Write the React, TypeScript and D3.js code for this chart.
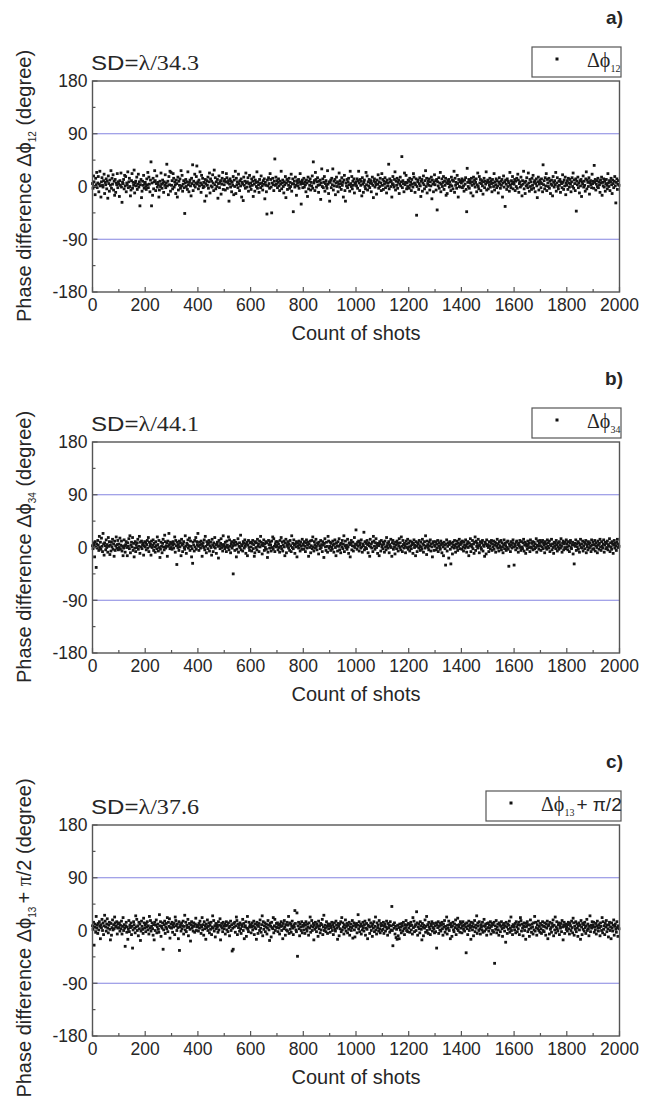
import * as d3 from 'd3';
import React from 'react';

// shots are sampled every other shot, index i -> shot i * shotStep
const shotStep = 2;
const xMajorTicks = [0, 200, 400, 600, 800, 1000, 1200, 1400, 1600, 1800, 2000];
const xMinorTicks = [100, 300, 500, 700, 900, 1100, 1300, 1500, 1700, 1900];
const yMajorTicks = [-180, -90, 0, 90, 180];
const yMinorTicks = [-135, -45, 45, 135];
const guideLevels = [-90, 90];

const panelTags = ['a)', 'b)', 'c)'];
const sdValues = ['34.3', '44.1', '37.6'];
const phaseSubs = ['12', '34', '13'];
const phaseSuffix = ['', '', '+ π/2'];

// Δϕ12 (degree)
const phi12 = [
  5,-3,18,8,0,-14,14,3,24,-2,6,17,-9,4,26,1,-18,8,15,2,-1,10,21,-12,7,3,13,-4,9,-20,18,5,-8,11,2,27,-3,14,4,20,-6,9,-15,12,-10,6,3,22,-2,8,
  4,-17,10,2,23,-1,-27,7,5,12,-4,19,1,17,-9,6,3,25,-2,8,14,0,-16,-6,10,22,-3,7,2,28,-11,6,9,1,16,-5,4,21,-1,8,-33,3,12,-19,-8,9,2,19,-3,5,
  7,0,-5,13,3,24,-2,16,4,-9,11,42,-33,6,-15,14,-4,8,27,10,-7,5,18,-1,7,3,-18,-6,9,0,23,4,-3,11,6,-10,8,2,20,-2,6,38,1,9,-14,17,3,26,-8,24,
  2,10,-4,22,14,-1,8,3,-12,11,5,-18,16,-6,9,2,13,-3,27,1,19,-8,4,10,-2,-46,6,12,0,8,-5,25,3,-9,7,11,1,-16,14,5,37,-7,9,2,21,-1,6,17,35,4,
  8,-4,11,1,25,6,-10,19,3,14,-2,7,0,-25,12,5,-16,10,2,16,-3,8,23,-11,13,1,9,-1,20,6,-7,28,3,15,-4,8,0,12,-20,5,18,-2,7,10,-13,4,14,24,-5,9,
  3,12,-6,8,22,15,-3,6,10,-25,4,13,-1,9,-9,7,2,17,-14,11,0,26,-12,14,3,8,-2,21,5,-7,10,1,13,-18,7,4,-24,16,2,9,-3,23,6,-1,8,15,-8,5,19,0,
  6,-5,13,2,9,-17,16,4,-8,11,7,0,25,-3,8,3,-10,12,5,-2,18,6,1,-6,10,4,13,-21,7,2,-9,-47,11,1,15,5,-3,22,12,-1,-45,6,14,3,-7,9,47,2,16,4,
  10,-2,7,13,1,-7,9,4,26,-4,6,11,0,-11,8,3,17,-19,6,12,-5,9,2,14,-3,7,0,21,-8,5,13,-43,4,9,-1,16,2,-15,10,6,1,12,-3,8,22,4,-30,7,11,-2,
  5,14,-1,8,3,-9,11,6,-17,16,-4,9,2,13,-6,7,1,18,-3,42,6,10,-7,24,12,-1,8,15,2,-10,9,3,11,-22,6,30,0,13,-2,7,17,-8,5,10,1,-3,27,4,-12,8,
  -25,7,11,-2,14,3,30,-6,9,1,12,-14,6,16,0,8,-9,4,23,-1,10,5,-5,15,2,7,-18,11,19,-7,-25,6,1,12,-2,8,14,3,-8,26,5,0,17,-4,9,2,13,-11,6,4,
  8,1,13,-3,10,26,6,-7,12,2,9,-16,15,4,-10,7,11,0,-4,24,3,18,-6,8,1,12,-2,6,10,-9,5,16,2,-19,9,13,-1,7,3,-13,11,4,20,-3,8,0,14,6,-7,22,
  2,12,-5,9,4,15,-2,7,-11,11,1,6,38,-4,13,8,0,10,-18,5,17,3,-1,12,25,-6,9,2,14,-3,7,11,-12,4,16,1,8,51,-2,10,5,-9,23,3,7,19,-4,6,0,11,
  9,-3,14,2,7,-7,12,4,-1,22,16,6,-10,3,13,-49,0,8,11,-5,5,15,1,-17,9,12,-8,6,18,3,-4,10,27,0,14,-11,5,9,2,13,-6,8,1,16,-21,11,4,-9,7,20,
  3,10,-6,12,-40,8,1,15,-3,6,24,-9,4,13,0,7,17,-5,9,2,14,-15,6,-12,10,5,12,-1,8,3,-7,16,1,11,-4,9,26,-10,14,2,7,-3,19,5,-18,12,0,8,-1,10,
  6,13,-2,9,1,-8,11,4,15,-5,-43,31,7,0,12,-3,10,6,-11,14,2,8,-16,16,4,11,-1,7,13,-9,3,23,0,-4,17,6,12,-7,5,10,1,-13,8,14,-2,9,4,25,-6,7,
  11,-4,7,2,14,-1,9,5,-9,12,6,0,22,-6,8,3,13,-2,10,1,-11,7,15,4,-3,9,2,12,-18,6,18,-1,8,-34,11,4,-5,13,0,9,6,-8,24,2,-2,10,5,17,-4,7,
  4,12,-7,9,0,14,-3,21,11,-10,5,8,-1,16,2,-16,10,4,26,-4,7,-12,9,1,15,3,-2,23,6,-8,12,0,8,-5,14,2,19,-3,7,10,-9,5,13,1,-19,8,16,-6,4,11,
  7,-2,13,5,-9,37,3,10,-4,15,1,22,-7,12,6,0,14,-3,9,-12,4,11,2,-16,17,7,-1,10,3,24,-8,6,15,0,-4,9,2,12,-10,8,5,-2,20,7,-5,11,1,16,-14,6,
  2,10,-5,14,6,-1,12,4,-9,8,15,0,23,-3,11,5,-7,13,-42,9,3,16,-2,6,-11,10,1,12,-17,8,4,18,-1,9,2,-8,13,25,-4,11,7,0,15,-13,6,10,3,-2,21,5,
  9,-3,36,7,12,-6,4,10,0,14,-2,8,3,-10,11,6,16,-15,7,1,13,-1,9,-8,5,12,2,-4,22,6,0,10,-7,8,14,3,-12,11,5,-2,9,17,1,-28,7,13,-5,4,10,2,
];

// Δϕ34 (degree)
const phi34 = [
  3,-2,8,5,-16,10,1,-34,6,-1,12,4,-5,19,0,9,-3,16,2,-7,24,6,-13,8,3,-4,13,0,5,-8,17,2,10,-12,4,-6,9,1,14,-3,6,-15,11,-5,3,18,-1,5,12,-4,
  6,0,16,-3,4,11,-6,2,-14,-1,13,3,-8,5,10,0,-14,8,2,15,-2,20,-9,4,9,1,17,-5,7,-16,-1,10,-7,5,0,8,14,-3,2,19,-10,9,1,11,-2,4,7,-13,3,10,
  1,8,-4,5,12,-1,17,-7,9,2,6,-13,11,0,4,13,-5,7,1,-8,10,3,-2,18,5,-6,12,0,-17,-3,9,2,-9,7,14,1,-4,21,10,-1,3,8,-15,11,2,24,5,-2,9,0,
  7,-3,4,10,-1,6,18,-8,12,3,-29,9,0,5,-5,11,1,8,-14,14,4,-7,6,10,0,-3,20,2,-10,7,5,13,-1,3,16,-5,11,2,-16,-2,-27,9,4,-6,12,1,17,-3,10,5,
  24,2,-5,9,4,-1,11,6,-15,3,8,0,13,-4,19,2,-9,10,5,-2,7,12,-6,3,9,0,-13,14,4,-7,8,1,17,-1,5,-10,6,9,2,-18,12,3,-2,7,15,0,5,-6,20,2,
  5,-2,9,1,-7,11,4,0,18,-4,13,2,-9,6,10,-1,3,-45,7,12,-5,4,9,-16,-3,6,15,-8,2,8,0,21,-4,5,3,-6,10,7,-1,13,2,-10,6,9,-14,4,12,0,-5,8,
  9,1,-6,7,12,-2,5,-15,-9,10,0,8,-4,14,2,6,-7,11,1,19,9,4,-11,7,3,13,-5,6,0,10,-3,8,-17,-8,12,5,-1,9,4,-6,11,0,18,-3,15,2,-7,6,10,1,
  3,10,-4,6,0,-8,12,2,17,-2,9,-6,4,11,1,-14,8,14,-9,5,2,10,-1,6,-5,12,3,-7,20,0,7,-2,13,4,-10,6,1,10,-16,8,3,-1,11,5,-6,9,2,-3,14,4,
  6,-3,10,2,-7,8,13,-1,4,9,-15,6,0,11,-9,3,12,-2,18,1,-6,10,5,-1,14,2,-4,8,6,-11,9,3,-2,12,0,5,-7,10,4,-17,7,15,1,-5,9,2,-8,19,11,-1,
  2,9,-5,7,1,-3,11,4,-8,6,13,0,-14,8,3,-6,10,2,15,-4,5,-9,7,1,12,-2,6,20,-7,3,11,0,4,-3,14,1,-10,8,5,-16,7,12,-4,3,9,-6,2,17,0,6,
  30,5,-3,9,2,11,-6,4,8,-1,13,1,-8,6,3,26,-4,10,0,7,-2,12,5,-9,8,3,-15,14,1,6,-1,9,-7,19,11,2,-3,8,15,0,5,-10,7,3,-14,10,6,-6,12,1,
  4,-2,9,6,-8,11,1,-4,17,3,7,-1,10,-9,5,2,14,0,-15,8,12,-3,6,1,-11,9,4,-2,11,7,-6,3,15,0,8,-4,18,2,-7,12,5,-1,7,3,-9,11,0,6,14,-3,
  8,1,-6,11,3,-2,9,5,-10,7,13,0,4,-14,10,2,-7,8,6,-1,12,3,-5,9,1,-3,14,6,-8,4,10,-1,20,2,-12,11,5,0,-4,9,3,13,-6,6,1,-16,8,10,-5,4,
  2,10,-4,6,-1,12,-7,3,8,0,-3,11,5,-9,7,1,-14,9,4,-2,-30,6,13,-6,2,8,-18,5,10,-3,-28,7,1,-11,9,4,-1,12,3,-8,6,0,11,-5,7,2,14,-2,5,9,
  7,-3,11,1,-6,9,4,-1,13,2,-8,6,10,0,-14,8,3,15,-7,5,1,12,-2,6,-10,9,18,-5,11,2,7,-1,14,3,-9,5,10,0,-3,8,12,-6,4,2,-15,9,6,-11,13,3,
  5,0,-7,10,3,-2,8,12,-5,6,1,11,-3,4,9,-8,7,2,14,-1,6,-6,10,3,0,12,-4,8,1,-9,5,13,-2,7,3,-5,9,0,11,-3,-32,6,2,-7,10,4,-1,8,13,1,
  -30,6,2,-4,9,11,-1,5,-8,7,3,12,0,-5,10,1,-2,8,14,-6,4,9,-10,6,2,-3,11,5,0,8,-7,13,1,-1,7,10,-4,3,9,-2,6,0,15,-8,4,11,2,-3,7,12,
  3,-5,9,1,12,-2,7,4,-9,10,0,6,-3,13,2,8,-1,11,-7,5,3,14,-4,6,0,-10,9,2,7,-2,12,4,-6,8,1,-3,10,5,-1,15,2,-8,7,11,-4,6,0,9,-2,13,
  6,1,-4,10,3,-7,8,12,0,-2,5,9,-11,4,-28,7,2,13,-5,6,1,10,-3,8,-8,4,14,0,6,-1,11,-6,3,9,-2,7,12,-9,5,1,-4,10,6,-1,8,2,-7,13,4,-3,
  9,-2,5,12,-6,3,8,0,-9,11,4,-3,7,14,1,-5,10,2,-1,6,13,-8,4,9,-2,7,0,11,-4,5,2,15,-7,8,1,-3,10,6,-10,4,12,-1,7,3,-5,9,14,0,6,2,
];

// Δϕ13 + π/2 (degree)
const phi13 = [
  8,2,14,-25,6,11,-3,24,4,9,-5,12,1,15,7,-14,10,5,19,0,13,-7,8,26,16,6,-1,11,20,4,-4,9,14,2,-16,12,-8,5,18,1,10,3,23,13,6,8,15,-6,4,11,
  5,13,-1,9,3,16,-6,7,22,0,10,4,-27,8,14,-3,6,-15,2,17,-2,9,5,13,-7,7,-30,1,15,10,4,-4,25,6,19,0,8,-9,14,3,11,-17,-1,16,7,2,-5,21,13,4,
  9,-2,12,6,15,1,8,-6,24,4,17,-1,7,13,3,-8,10,-16,14,0,9,18,-4,6,11,2,-3,27,8,15,-10,7,4,13,-32,1,10,16,-5,6,12,3,22,-2,14,7,20,-13,5,11,
  4,14,-3,9,6,12,-7,23,17,8,0,11,5,-14,15,-34,6,10,-1,13,3,8,16,-6,7,26,1,14,-2,9,5,19,-9,6,12,2,-18,10,15,4,8,-1,13,7,-3,11,21,0,6,9,
  7,-1,12,4,16,9,-5,6,22,1,10,-8,15,3,8,-15,11,5,18,0,7,13,-4,9,2,14,-7,6,25,4,17,-1,8,-11,12,3,10,6,-3,15,1,9,20,-16,7,12,4,-2,14,8,
  3,11,-6,8,15,1,9,-2,13,5,-9,7,16,0,10,-35,4,-32,12,6,14,-3,8,23,17,-7,11,5,9,-1,13,3,-5,10,7,19,0,12,-14,6,8,15,-10,4,24,2,-2,14,6,9,
  10,-4,6,13,1,8,16,-7,5,11,3,-15,14,9,-5,7,12,0,18,4,-3,10,25,-9,15,2,8,13,-2,6,11,-6,4,17,9,1,-17,12,7,-11,14,5,3,22,-4,8,19,0,6,12,
  5,13,-2,9,4,-6,11,7,15,0,8,-14,12,3,17,6,-8,10,1,14,-1,9,24,-5,13,2,11,-3,7,16,4,-7,10,6,34,12,1,-2,30,-44,8,14,3,-9,11,6,0,15,-4,9,
  7,1,12,-5,9,15,3,-1,11,6,-8,13,4,23,-3,8,17,0,6,12,-16,9,2,14,5,-2,11,7,-10,16,3,8,-4,12,1,10,19,-7,6,26,0,9,4,-2,15,7,-5,11,3,8,
  11,-3,8,5,14,0,10,-7,6,13,2,-1,16,9,4,-15,12,7,-9,11,3,15,-2,22,1,13,6,-6,10,4,18,-1,7,12,-4,9,2,14,-8,6,11,0,5,17,-13,8,13,1,-11,10,
  6,12,-4,9,27,3,15,-2,7,11,-6,8,1,14,5,-1,10,16,-8,4,12,2,-14,9,7,18,-5,6,13,0,8,-10,11,4,15,-2,7,23,1,-6,13,5,9,-1,17,3,-4,12,8,0,
  9,2,14,-5,7,11,-1,6,16,3,-8,12,5,9,-3,15,1,8,41,0,-26,10,4,13,-6,7,-12,2,-15,9,-9,5,-14,11,1,6,-4,12,8,-1,14,3,-7,10,5,17,0,9,-2,12,
  4,11,-3,8,14,1,9,-6,22,5,16,-2,7,10,0,32,13,-8,6,11,3,-4,15,8,2,-16,12,6,-9,9,4,18,-3,7,24,0,10,-5,14,6,2,-7,11,8,15,-1,5,12,3,-4,
  8,-2,13,-30,10,5,15,-5,7,1,12,-1,9,14,3,-8,11,6,17,-3,7,2,23,-6,9,4,16,0,10,-14,12,6,-10,8,14,1,-2,11,5,18,-7,9,3,21,0,6,10,-3,15,4,
  12,-4,7,15,2,9,-1,11,6,-38,13,3,-7,8,16,0,10,5,-15,14,7,1,12,-9,6,17,-2,9,4,25,-5,13,8,0,15,3,-6,10,6,1,14,-3,8,19,-1,7,11,2,-8,12,
  5,13,-1,9,4,15,-6,7,12,0,10,-3,14,-56,8,2,17,-4,6,11,1,-8,13,9,-2,7,15,3,-10,10,5,12,-1,8,-20,14,6,-5,11,2,9,16,-3,4,23,0,7,-7,10,6,
  8,1,12,-4,15,6,-2,10,3,14,-7,9,22,17,-1,11,4,-9,8,13,0,6,-15,12,7,15,-2,10,2,-10,9,18,4,-3,11,6,-6,13,1,24,-1,14,5,-8,10,3,16,0,7,-3,
  12,3,-5,9,15,0,7,-2,13,6,-8,11,4,16,-14,8,10,-6,14,2,5,-3,12,7,18,-9,9,1,23,-4,6,15,3,-1,10,13,-7,8,4,12,-2,17,6,-16,9,14,-5,7,11,2,
  6,-1,10,14,3,-6,12,8,0,16,5,-4,21,13,-8,7,2,15,-2,11,4,-10,8,13,1,9,-15,17,6,-7,12,2,10,-1,14,5,-5,8,19,0,11,3,-9,7,25,-2,9,4,15,6,
  9,14,-3,6,1,12,-6,8,16,4,-1,10,5,-9,13,7,0,22,-4,15,2,8,-7,12,6,17,-2,9,3,-11,10,14,0,6,-14,13,4,-1,9,18,-8,7,11,2,-3,15,5,-10,8,3,
];

const seriesList = [phi12, phi34, phi13];

// layout
const plotLeft = 92.5;
const plotRight = 619.5;
const plotHeight = 211;
const plotTops = [81, 442, 825];
const yLabelCenters = [186, 547, 938];
const legendWidths = [89, 89, 135];

const SANS = '"Liberation Sans", Arial, Helvetica, sans-serif';
const SERIF = '"Liberation Serif", "Times New Roman", Times, serif';
const TEXT = '#262626';
const AXIS = '#555';
const GUIDE = '#8585e0';

function Panel({ idx }: { idx: number }) {
  const top = plotTops[idx];
  const bottom = top + plotHeight;
  const values = seriesList[idx];

  const x = d3.scaleLinear().domain([0, 2000]).range([plotLeft, plotRight]);
  const y = d3.scaleLinear().domain([-180, 180]).range([bottom, top]);

  const lw = legendWidths[idx];
  const box = { x: plotRight + 1.5 - lw, y: top - 34, w: lw, h: 30 };
  const sub = phaseSubs[idx];
  const suffix = phaseSuffix[idx];

  return (
    <g>
      {/* panel tag */}
      <text x={623} y={top - 57} textAnchor="end" fontFamily={SANS} fontWeight="bold" fontSize={19} fill={TEXT}>
        {panelTags[idx]}
      </text>

      {/* SD annotation */}
      <text x={91} y={top - 11} fontSize={20} fill={TEXT} textLength={108} lengthAdjust="spacingAndGlyphs">
        <tspan fontFamily={SANS}>SD=</tspan>
        <tspan fontFamily={SERIF}>λ/{sdValues[idx]}</tspan>
      </text>

      {/* legend */}
      <rect x={box.x} y={box.y} width={box.w} height={box.h} fill="white" stroke={AXIS} strokeWidth={1.2} />
      <rect x={box.x + 23.5} y={box.y + 10.5} width={3} height={3} fill="#111" />
      <text x={box.x + 55} y={box.y + box.h - 10} fontFamily={SERIF} fontSize={20} fill={TEXT}>
        Δϕ<tspan fontSize={10} dy={5}>{sub}</tspan>
        {suffix ? (
          <tspan dy={-5} dx={2} fontFamily={SANS} fontSize={19}>{suffix}</tspan>
        ) : null}
      </text>

      {/* guide lines at ±90 */}
      {guideLevels.map((g) => (
        <line key={g} x1={plotLeft} x2={plotRight} y1={y(g)} y2={y(g)} stroke={GUIDE} strokeWidth={1.2} />
      ))}

      {/* points */}
      <g fill="#151515">
        {values.map((v, i) => (
          <rect key={i} x={x(i * shotStep) - 1.4} y={y(v) - 1.4} width={2.8} height={2.8} />
        ))}
      </g>

      {/* frame */}
      <rect x={plotLeft} y={top} width={plotRight - plotLeft} height={plotHeight} fill="none" stroke={AXIS} strokeWidth={1.4} />

      {/* x ticks */}
      {xMajorTicks.map((t) => (
        <g key={'xM' + t}>
          <line x1={x(t)} x2={x(t)} y1={bottom} y2={bottom - 5} stroke={AXIS} strokeWidth={1.2} />
          <text x={x(t)} y={bottom + 19} textAnchor="middle" fontFamily={SANS} fontSize={17.5} fill={TEXT}>{t}</text>
        </g>
      ))}
      {xMinorTicks.map((t) => (
        <line key={'xm' + t} x1={x(t)} x2={x(t)} y1={bottom} y2={bottom - 3} stroke={AXIS} strokeWidth={1.2} />
      ))}

      {/* y ticks */}
      {yMajorTicks.map((t) => (
        <g key={'yM' + t}>
          <line x1={plotLeft} x2={plotLeft + 5} y1={y(t)} y2={y(t)} stroke={AXIS} strokeWidth={1.2} />
          <text x={87.5} y={y(t)} dy="0.36em" textAnchor="end" fontFamily={SANS} fontSize={17.5} fill={TEXT}>{t}</text>
        </g>
      ))}
      {yMinorTicks.map((t) => (
        <line key={'ym' + t} x1={plotLeft} x2={plotLeft + 3} y1={y(t)} y2={y(t)} stroke={AXIS} strokeWidth={1.2} />
      ))}

      {/* axis titles */}
      <text x={(plotLeft + plotRight) / 2} y={bottom + 48} textAnchor="middle" fontFamily={SANS} fontSize={20} fill={TEXT}>
        Count of shots
      </text>
      <text
        transform={`translate(31, ${yLabelCenters[idx]}) rotate(-90)`}
        textAnchor="middle"
        fontFamily={SANS}
        fontSize={20}
        fill={TEXT}
      >
        Phase difference Δϕ<tspan fontSize={10} dy={5}>{sub}</tspan>
        {suffix ? <tspan dy={-5} dx={3}>+ </tspan> : null}
        {suffix ? <tspan fontFamily={SERIF}>π</tspan> : null}
        {suffix ? <tspan>/2 (degree)</tspan> : <tspan dy={-5}> (degree)</tspan>}
      </text>
    </g>
  );
}

export default function App() {
  return (
    <svg
      width={655}
      height={1100}
      style={{ position: 'absolute', left: 0, top: 0, background: 'white' }}
    >
      {plotTops.map((_, i) => (
        <Panel key={i} idx={i} />
      ))}
    </svg>
  );
}
